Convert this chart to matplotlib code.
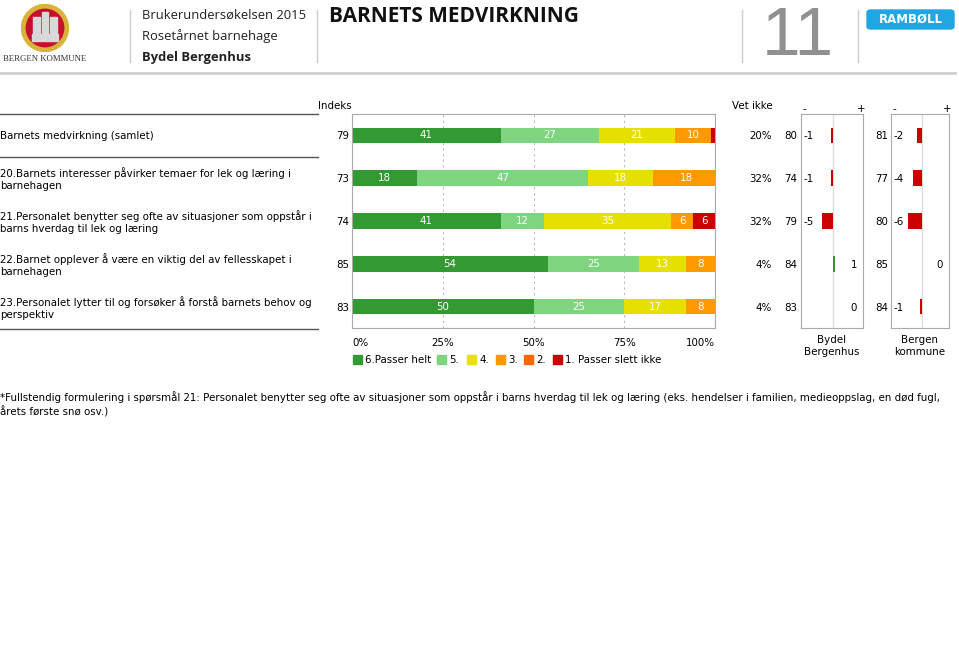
import numpy as np
import matplotlib.pyplot as plt
from matplotlib.patches import Rectangle, Circle, FancyBboxPatch

# ---- data ----
questions = [
    "Barnets medvirkning (samlet)",
    "20.Barnets interesser påvirker temaer for lek og læring i\nbarnehagen",
    "21.Personalet benytter seg ofte av situasjoner som oppstår i\nbarns hverdag til lek og læring",
    "22.Barnet opplever å være en viktig del av fellesskapet i\nbarnehagen",
    "23.Personalet lytter til og forsøker å forstå barnets behov og\nperspektiv",
]
index_vals = [79, 73, 74, 85, 83]
cat_names = ["6.Passer helt", "5.", "4.", "3.", "2.", "1. Passer slett ikke"]
cat_colors = ["#339933", "#7fd47f", "#e6e000", "#ff9900", "#ff6600", "#cc0000"]
shares = [
    [41, 27, 21, 10, 0, 1],
    [18, 47, 18, 18, 0, 0],
    [41, 12, 35, 6, 0, 6],
    [54, 25, 13, 8, 0, 0],
    [50, 25, 17, 8, 0, 0],
]
vet_ikke = [20, 32, 32, 4, 4]
bydel_index = [80, 74, 79, 84, 83]
bydel_diff = [-1, -1, -5, 1, 0]
bergen_index = [81, 77, 80, 85, 84]
bergen_diff = [-2, -4, -6, 0, -1]
pct_ticks = [0, 25, 50, 75, 100]

W, H = 959, 654
FS = 7.4
fig = plt.figure(figsize=(W / 100, H / 100), dpi=100)
plt.rcParams['font.family'] = ['DejaVu Sans']


def fx(x):
    return x / W


def fy(y):
    return 1 - y / H


def box(l, t, r, b):
    return [fx(l), fy(b), (r - l) / W, (b - t) / H]


def ftext(x, y, s, **kw):
    kw.setdefault("fontsize", FS)
    kw.setdefault("va", "center")
    fig.text(fx(x), fy(y), s, **kw)


def fline(x0, x1, y0, y1, color="#555555", lw=1.0):
    fig.add_artist(plt.Line2D([fx(x0), fx(x1)], [fy(y0), fy(y1)],
                              transform=fig.transFigure, color=color, lw=lw))


# ---- header ----
lax = fig.add_axes(box(20, 4, 70, 52))
lax.set_xlim(-1, 1)
lax.set_ylim(-1, 1)
lax.set_aspect("equal")
lax.axis("off")
lax.add_patch(Circle((0, 0), 0.98, color="#d9b23a"))
lax.add_patch(Circle((0, 0), 0.78, color="#c8102e"))
for xc, hh in [(-0.35, 0.9), (0, 1.1), (0.35, 0.9)]:
    lax.add_patch(Rectangle((xc - 0.14, -0.45), 0.28, hh, color="#d8d8d8"))
lax.add_patch(Rectangle((-0.55, -0.55), 1.1, 0.3, color="#d8d8d8"))
ftext(45, 59, "BERGEN KOMMUNE", fontsize=6.3, ha="center", family="Liberation Serif", color="#333333")

for xv in [130, 317, 742, 858]:
    fline(xv, xv, 10, 62, color="#cccccc", lw=1)
fline(0, 955, 73, 73, color="#d0d0d0", lw=2)

ftext(142, 15, "Brukerundersøkelsen 2015", fontsize=9.4, family="Open Sans", color="#222222")
ftext(142, 36, "Rosetårnet barnehage", fontsize=9.4, family="Open Sans", color="#222222")
ftext(142, 58, "Bydel Bergenhus", fontsize=9.4, family="Open Sans", weight="bold", color="#222222")
ftext(329, 17, "BARNETS MEDVIRKNING", fontsize=15, family="Open Sans", weight="bold", color="#111111")
ftext(798, 37, "11", fontsize=50, family="Liberation Sans", color="#909090", ha="center")

fig.patches.append(FancyBboxPatch((fx(867), fy(29)), fx(954) - fx(867), fy(10) - fy(29),
                                  boxstyle="round,pad=0,rounding_size=0.004",
                                  transform=fig.transFigure, color="#1fa6e3"))
ftext(910.5, 19.5, "RAMBØLL", fontsize=8.5, weight="bold", color="white", ha="center")

# ---- left labels and lines ----
row_y = [136, 179, 222, 265, 308]
fline(0, 318, 114, 114)
fline(0, 318, 157, 157)
fline(0, 318, 329, 329)
for q, y in zip(questions, row_y):
    ftext(0, y, q, ha="left", linespacing=1.3)

ftext(318, 106, "Indeks", ha="left")
ftext(732, 106, "Vet ikke", ha="left")

# ---- main stacked bars ----
ax = fig.add_axes(box(352, 114, 715, 328))
ys = np.arange(len(questions))
left = np.zeros(len(questions))
for k in range(len(cat_names)):
    vals = np.array([row[k] for row in shares], dtype=float)
    ax.barh(ys, vals, left=left, height=0.36, color=cat_colors[k], zorder=2)
    for i, v in enumerate(vals):
        if v >= 5:
            ax.text(left[i] + v / 2, ys[i], f"{v:.0f}", ha="center", va="center",
                    color="white", fontsize=FS, zorder=3)
    left += vals
ax.set_xlim(0, 100)
ax.set_ylim(len(questions) - 0.5, -0.5)
ax.set_yticks([])
ax.set_xticks(pct_ticks)
ax.set_xticklabels([f"{t}%" for t in pct_ticks], fontsize=FS)
for lbl, ha in zip(ax.get_xticklabels(), ["left", "center", "center", "center", "right"]):
    lbl.set_ha(ha)
ax.tick_params(axis="x", length=0, pad=7)
ax.grid(axis="x", linestyle=(0, (2, 3)), color="#bbbbbb", lw=0.8, zorder=0)
for s in ax.spines.values():
    s.set_color("#aaaaaa")

for i, y in enumerate(row_y):
    ftext(349, y, str(index_vals[i]), ha="right")
    ftext(772, y, f"{vet_ikke[i]}%", ha="right")
    ftext(797, y, str(bydel_index[i]), ha="right")
    ftext(888, y, str(bergen_index[i]), ha="right")

# ---- comparison mini charts ----
def mini(l, r, center, diffs, name):
    scale = 2.3
    mx = fig.add_axes(box(l, 114, r, 328))
    mx.set_xlim(-(center - l) / scale, (r - center) / scale)
    mx.set_ylim(len(diffs) - 0.5, -0.5)
    mx.axvline(0, color="#dddddd", lw=1, zorder=0)
    cols = ["#339933" if d > 0 else "#cc0000" for d in diffs]
    mx.barh(np.arange(len(diffs)), diffs, height=0.36, color=cols, zorder=2)
    mx.set_xticks([])
    mx.set_yticks([])
    for s in mx.spines.values():
        s.set_color("#aaaaaa")
    for i, d in enumerate(diffs):
        if d < 0:
            ftext(l + 3, row_y[i], str(d), ha="left")
        else:
            ftext(r - 6, row_y[i], str(d), ha="right")
    ftext(l + 3, 109, "-", ha="center")
    ftext(r - 2, 109, "+", ha="center")
    ftext((l + r) / 2, 346, name, ha="center", linespacing=1.2)


mini(801, 863, 833, bydel_diff, "Bydel\nBergenhus")
mini(891, 949, 922, bergen_diff, "Bergen\nkommune")

# ---- legend ----
leg_x = [353, 437, 467, 496, 524, 553]
for x, name, c in zip(leg_x, cat_names, cat_colors):
    fig.patches.append(Rectangle((fx(x), fy(364)), 9 / W, 9 / H,
                                 transform=fig.transFigure, color=c))
    ftext(x + 12, 359.5, name, ha="left")

# ---- footnote ----
ftext(0, 397, "*Fullstendig formulering i spørsmål 21: Personalet benytter seg ofte av situasjoner som oppstår i "
              "barns hverdag til lek og læring (eks. hendelser i familien, medieoppslag, en død fugl,", ha="left")
ftext(0, 412, "årets første snø osv.)", ha="left")

fig.savefig("out.png", dpi=100)
